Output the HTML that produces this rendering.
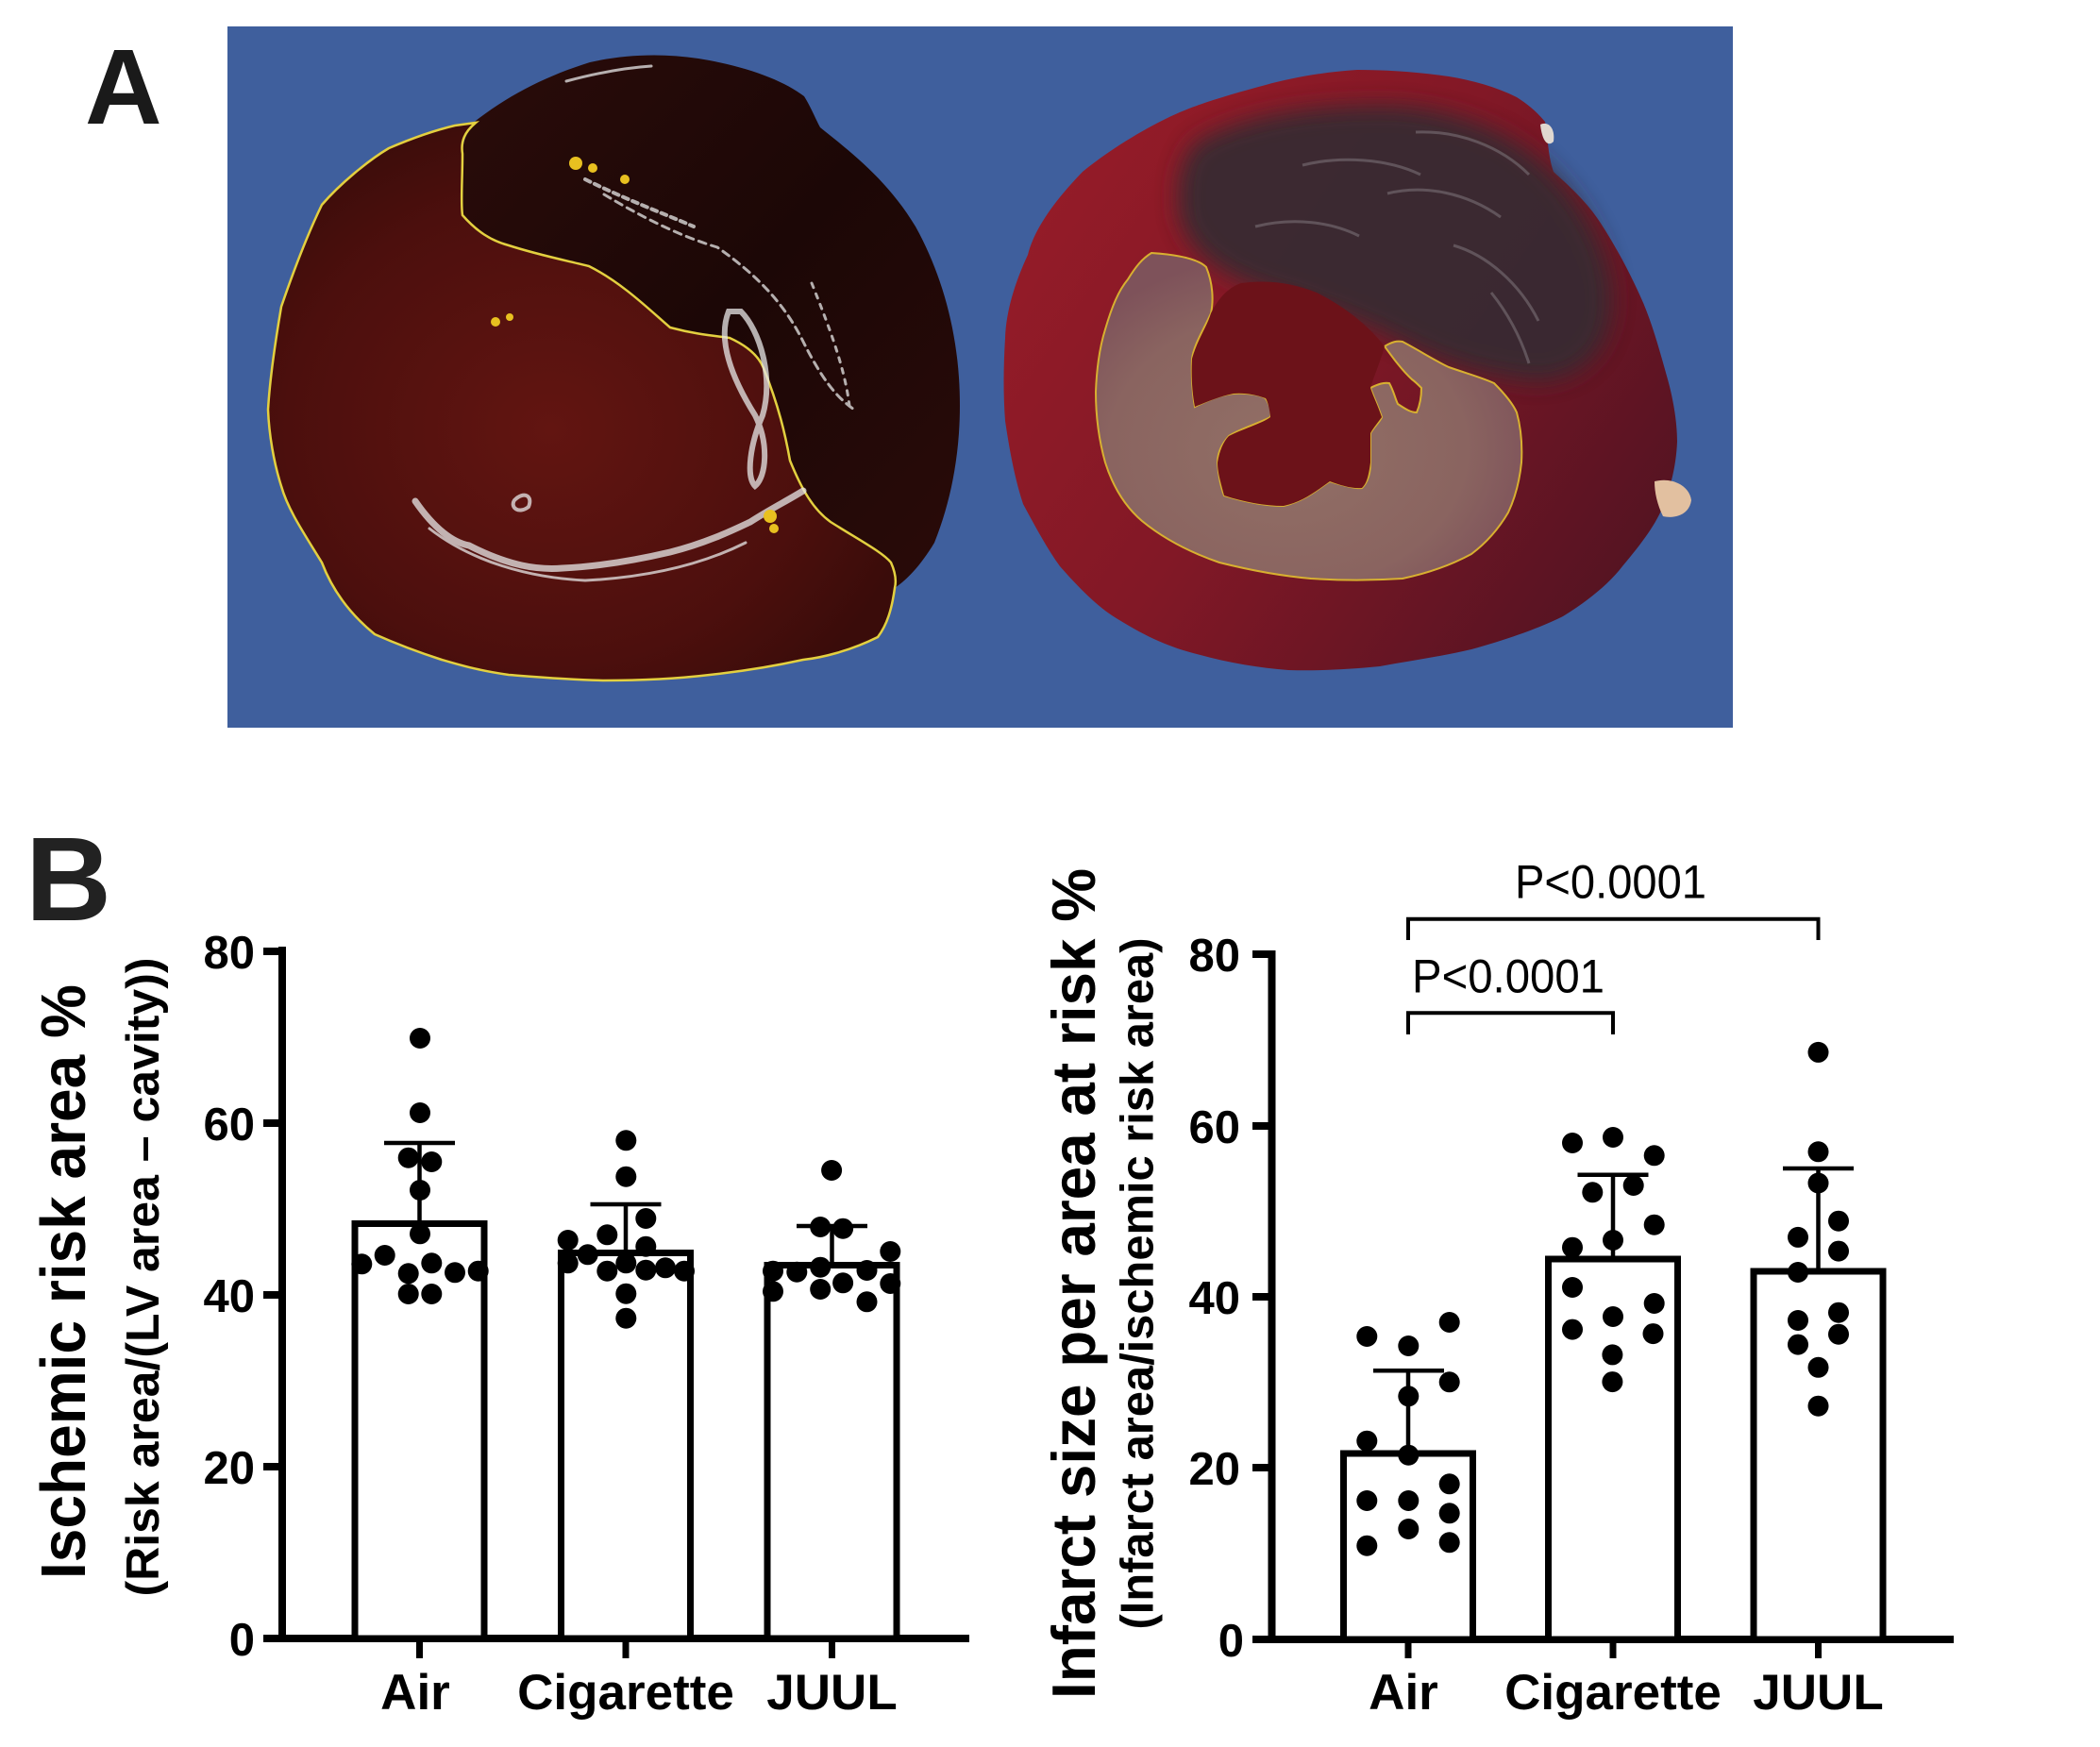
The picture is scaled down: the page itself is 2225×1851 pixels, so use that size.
<!DOCTYPE html>
<html><head><meta charset="utf-8"><style>
html,body{margin:0;padding:0;background:#fff;}
svg{display:block;}
text{font-family:"Liberation Sans",Arial,sans-serif;}
</style></head><body>
<svg width="2225" height="1851" viewBox="0 0 2225 1851" xmlns="http://www.w3.org/2000/svg">
<defs>
<radialGradient id="lh" cx="0.45" cy="0.55" r="0.6">
<stop offset="0" stop-color="#621511"/><stop offset="0.7" stop-color="#4c0f0d"/><stop offset="1" stop-color="#3a0c0a"/>
</radialGradient>
<linearGradient id="ld" x1="0" y1="0" x2="1" y2="1">
<stop offset="0" stop-color="#2a0c0a"/><stop offset="0.5" stop-color="#1c0706"/><stop offset="1" stop-color="#2a0b09"/>
</linearGradient>
<linearGradient id="rh" x1="0" y1="0.2" x2="1" y2="0.8">
<stop offset="0" stop-color="#961c28"/><stop offset="0.45" stop-color="#821826"/><stop offset="1" stop-color="#521322"/>
</linearGradient>
<radialGradient id="rin" cx="0.45" cy="0.6" r="0.6">
<stop offset="0" stop-color="#927066"/><stop offset="0.7" stop-color="#8a6460"/><stop offset="1" stop-color="#7e525a"/>
</radialGradient>
<filter id="bl" x="-20%" y="-20%" width="140%" height="140%"><feGaussianBlur stdDeviation="12"/></filter>
</defs>

<!-- Panel A -->
<text x="90" y="131" font-size="113" font-weight="bold" fill="#1a1a1a">A</text>
<rect x="241" y="28" width="1595" height="743" fill="#3f5f9d"/>

<!-- left heart: dark region -->
<path d="M504,128 C540,100 580,80 625,66 C660,58 700,56 740,62 C790,70 830,85 852,102 C860,115 865,128 869,135 C900,160 940,190 970,240 C995,285 1012,340 1016,400 C1020,460 1012,520 990,575 C975,600 960,615 948,623 C950,612 948,603 944,596 C930,582 905,568 880,553 C860,538 848,515 837,488 C830,455 822,420 809,390 C800,374 790,364 773,358 C755,354 730,352 710,347 C685,325 655,296 624,282 C598,274 565,268 539,260 C518,252 502,242 490,228 C489,205 490,185 490,163 C490,150 495,138 504,128 Z" fill="url(#ld)"/>
<!-- left heart: risk region -->
<path d="M504,130 C492,140 488,150 490,163 C490,190 488,215 490,228 C505,245 520,255 539,260 C570,270 600,276 624,282 C660,300 690,330 710,347 C740,355 760,356 773,358 C795,368 805,380 809,390 C825,430 832,460 837,488 C850,520 862,540 880,553 C910,572 935,585 944,596 C948,605 950,615 948,623 C945,645 940,662 930,675 C900,690 870,697 851,699 C810,708 780,712 752,715 C710,720 670,721 639,721 C600,720 565,717 539,715 C505,710 485,704 468,699 C440,690 415,680 397,672 C370,650 352,625 341,596 C322,565 305,540 298,515 C290,490 285,460 284,434 C286,400 292,360 298,325 C310,290 325,250 341,217 C360,195 390,170 412,157 C440,145 465,137 482,133 Z" fill="url(#lh)" stroke="#e3d040" stroke-width="2.5"/>
<g fill="none" stroke="#e8e8e8" stroke-linecap="round" opacity="0.75">
<path d="M440,531 C460,560 480,575 497,578 C540,600 570,604 596,602 C640,600 680,592 710,585 C750,575 780,560 795,553 C815,540 835,530 851,520" stroke-width="7"/>
<path d="M455,560 C500,595 560,612 620,615 C680,612 740,600 790,575" stroke-width="3"/>
<path d="M772,330 C760,360 775,400 800,440 C815,470 812,505 800,515 C790,505 795,470 808,440 C820,400 805,350 785,330 Z" stroke-width="6"/>
<path d="M640,206 C680,230 720,250 760,262 C800,290 830,320 850,360 C870,400 885,420 905,434" stroke-width="3" stroke-dasharray="8 6"/>
<path d="M620,190 C660,210 700,225 735,240" stroke-width="4" stroke-dasharray="6 5"/>
<path d="M860,300 C880,350 895,390 900,430" stroke-width="3" stroke-dasharray="5 7"/>
<path d="M600,86 C630,78 660,72 690,70" stroke-width="3"/>
<path d="M545,530 C555,520 565,525 560,537 C550,545 540,538 545,530 Z" stroke-width="4"/>
</g>
<g fill="#e8c020">
<circle cx="610" cy="173" r="7"/><circle cx="628" cy="178" r="5"/><circle cx="662" cy="190" r="5"/>
<circle cx="525" cy="341" r="5"/><circle cx="540" cy="336" r="4"/><circle cx="816" cy="547" r="7"/><circle cx="820" cy="560" r="5"/>
</g>

<!-- right heart -->
<path d="M1268,112 C1230,125 1180,155 1147,182 C1115,215 1095,245 1089,270 C1075,300 1066,330 1065,358 C1063,390 1063,420 1065,446 C1070,480 1076,510 1084,534 C1098,560 1110,582 1123,600 C1145,625 1165,645 1186,657 C1215,675 1240,686 1268,693 C1300,702 1335,708 1365,710 C1400,711 1430,709 1462,706 C1495,700 1530,695 1559,688 C1595,678 1630,666 1656,653 C1685,635 1705,618 1719,600 C1740,575 1755,555 1763,534 C1772,510 1776,490 1777,468 C1777,445 1772,420 1767,402 C1758,370 1750,340 1738,314 C1725,285 1710,258 1695,235 C1680,212 1660,195 1646,182 C1640,165 1640,145 1637,129 C1628,118 1618,110 1607,103 C1585,92 1560,85 1535,81 C1500,76 1470,74 1438,74 C1405,76 1370,82 1341,90 C1315,97 1290,104 1268,112 Z" fill="url(#rh)"/>
<path d="M1268,150 C1320,120 1400,110 1480,112 C1560,118 1620,150 1660,200 C1700,250 1720,310 1700,360 C1680,400 1640,410 1600,400 C1560,395 1520,380 1490,365 C1450,345 1400,325 1350,310 C1300,295 1260,270 1250,230 C1245,195 1252,165 1268,150 Z" fill="#382a30" opacity="0.95" filter="url(#bl)"/>
<g fill="none" stroke="#7a7076" stroke-width="3" opacity="0.6">
<path d="M1380,175 C1420,165 1470,168 1505,185"/>
<path d="M1470,205 C1510,195 1555,205 1590,230"/>
<path d="M1540,260 C1575,270 1610,300 1630,340"/>
<path d="M1580,310 C1600,335 1612,360 1620,385"/>
<path d="M1500,140 C1545,138 1590,155 1620,185"/>
<path d="M1330,240 C1370,230 1410,235 1440,250"/>
</g>
<!-- yellow region -->
<path d="M1220,268 C1250,270 1270,275 1278,283 C1285,300 1286,318 1283,332 C1275,350 1265,365 1263,380 C1262,400 1264,420 1266,431 C1280,424 1295,418 1307,417 C1320,416 1335,418 1341,422 C1346,430 1347,437 1346,442 C1330,450 1312,455 1302,462 C1293,472 1290,482 1290,490 C1291,505 1294,517 1297,525 C1320,532 1340,536 1360,536 C1385,530 1400,515 1409,510 C1425,515 1437,518 1443,517 C1450,510 1452,500 1452,490 C1452,478 1452,468 1452,459 C1456,452 1462,447 1464,442 C1460,430 1455,420 1452,411 C1460,407 1466,405 1472,406 C1477,415 1478,422 1481,428 C1490,434 1495,437 1501,437 C1505,428 1506,418 1506,411 C1502,407 1499,404 1496,402 C1485,392 1475,378 1467,367 C1475,362 1480,361 1486,362 C1505,372 1520,382 1535,389 C1555,396 1570,400 1583,406 C1595,418 1603,428 1607,437 C1612,455 1613,472 1612,490 C1610,510 1605,528 1598,543 C1588,560 1575,575 1559,587 C1535,600 1510,608 1486,613 C1455,615 1420,615 1389,613 C1355,610 1320,603 1292,596 C1260,585 1232,570 1210,552 C1190,535 1178,512 1171,490 C1164,465 1161,440 1161,415 C1162,390 1165,368 1171,349 C1178,325 1185,308 1195,296 C1203,283 1210,274 1220,268 Z" fill="url(#rin)" stroke="#d8b030" stroke-width="2"/>
<!-- infarct -->
<path d="M1283,332 C1290,318 1300,305 1315,300 C1345,296 1370,300 1395,310 C1425,325 1450,345 1467,367 C1462,385 1455,400 1452,411 C1455,420 1460,430 1464,442 C1458,450 1454,455 1452,459 C1452,470 1452,480 1452,490 C1450,505 1448,512 1443,517 C1432,518 1420,514 1409,510 C1395,520 1380,532 1360,536 C1340,536 1318,532 1297,525 C1293,510 1290,500 1290,490 C1292,478 1296,468 1302,462 C1315,455 1335,450 1346,442 C1345,432 1343,425 1341,422 C1330,418 1318,416 1307,417 C1292,420 1278,426 1266,431 C1263,415 1262,398 1263,380 C1268,362 1278,348 1283,332 Z" fill="#6c1219"/>
<path d="M1753,510 C1772,505 1790,515 1792,530 C1790,545 1775,550 1762,547 C1756,535 1753,522 1753,510 Z" fill="#e2c0a0"/>
<path d="M1632,132 C1640,128 1648,135 1646,150 C1640,156 1634,150 1632,132 Z" fill="#e0d8d0"/>

<!-- Panel B label -->
<text x="27" y="975" font-size="126" font-weight="bold" fill="#222">B</text>

<!-- LEFT CHART -->
<text transform="translate(90,1358) rotate(-90)" text-anchor="middle" font-size="67" font-weight="bold" textLength="630" lengthAdjust="spacingAndGlyphs">Ischemic risk area %</text>
<text transform="translate(168,1353) rotate(-90)" text-anchor="middle" font-size="49" font-weight="bold" textLength="677" lengthAdjust="spacingAndGlyphs">(Risk area/(LV area – cavity))</text>

<g font-size="49" font-weight="bold" text-anchor="end">
<text x="270" y="1026">80</text>
<text x="270" y="1208">60</text>
<text x="270" y="1390">40</text>
<text x="270" y="1572">20</text>
<text x="270" y="1754">0</text>
</g>
<g fill="#000">
<rect x="295" y="1003" width="8" height="737"/>
<rect x="279" y="1004" width="20" height="8"/>
<rect x="279" y="1186" width="20" height="8"/>
<rect x="279" y="1368" width="20" height="8"/>
<rect x="279" y="1550" width="20" height="8"/>
<rect x="279" y="1732" width="748" height="8"/>
<rect x="441" y="1738" width="7" height="19"/>
<rect x="659.5" y="1738" width="7" height="19"/>
<rect x="878" y="1738" width="7" height="19"/>
</g>
<g fill="#fff" stroke="#000" stroke-width="7">
<rect x="376" y="1296.5" width="137" height="439.5"/>
<rect x="594.5" y="1327.5" width="137" height="408.5"/>
<rect x="813" y="1340.5" width="137" height="395.5"/>
</g>
<g stroke="#000" stroke-width="4.5">
<line x1="444.5" y1="1211" x2="444.5" y2="1293"/><line x1="407" y1="1211" x2="482" y2="1211"/>
<line x1="663" y1="1276" x2="663" y2="1324"/><line x1="625.5" y1="1276" x2="700.5" y2="1276"/>
<line x1="881.5" y1="1299" x2="881.5" y2="1337"/><line x1="844" y1="1299" x2="919" y2="1299"/>
</g>
<g fill="#000">
<circle cx="445" cy="1100" r="11"/><circle cx="445" cy="1179" r="11"/><circle cx="432.7" cy="1226.7" r="11"/><circle cx="457.3" cy="1231" r="11"/><circle cx="445" cy="1261" r="11"/><circle cx="445" cy="1307.3" r="11"/><circle cx="407.7" cy="1330" r="11"/><circle cx="383.3" cy="1339.3" r="11"/><circle cx="457.3" cy="1338.3" r="11"/><circle cx="432.7" cy="1349.3" r="11"/><circle cx="482" cy="1348.3" r="11"/><circle cx="506.7" cy="1346.7" r="11"/><circle cx="432.7" cy="1371" r="11"/><circle cx="457.3" cy="1371" r="11"/>
<circle cx="663.3" cy="1208.3" r="11"/><circle cx="663.3" cy="1246.7" r="11"/><circle cx="684.3" cy="1291" r="11"/><circle cx="643.3" cy="1308.3" r="11"/><circle cx="601.7" cy="1314" r="11"/><circle cx="684.3" cy="1320.7" r="11"/><circle cx="622.7" cy="1329.3" r="11"/><circle cx="601.7" cy="1338.3" r="11"/><circle cx="663.3" cy="1338.3" r="11"/><circle cx="643.3" cy="1346.7" r="11"/><circle cx="684.3" cy="1345.7" r="11"/><circle cx="705" cy="1343.3" r="11"/><circle cx="725" cy="1346.7" r="11"/><circle cx="663.3" cy="1370.7" r="11"/><circle cx="663.3" cy="1396.7" r="11"/>
<circle cx="881.1" cy="1240" r="11"/><circle cx="869.2" cy="1300" r="11"/><circle cx="893.1" cy="1301.7" r="11"/><circle cx="943.3" cy="1326" r="11"/><circle cx="819" cy="1346.7" r="11"/><circle cx="844.3" cy="1347.7" r="11"/><circle cx="869.2" cy="1342.7" r="11"/><circle cx="918.5" cy="1346" r="11"/><circle cx="819" cy="1368.3" r="11"/><circle cx="869.2" cy="1366" r="11"/><circle cx="893.1" cy="1359.3" r="11"/><circle cx="943.3" cy="1360" r="11"/><circle cx="918.5" cy="1379.3" r="11"/>
</g>
<g font-size="53" font-weight="bold" text-anchor="middle">
<text x="440" y="1811">Air</text>
<text x="663" y="1811">Cigarette</text>
<text x="881.5" y="1811">JUUL</text>
</g>

<!-- RIGHT CHART -->
<text transform="translate(1160,1360) rotate(-90)" text-anchor="middle" font-size="65" font-weight="bold" textLength="880" lengthAdjust="spacingAndGlyphs">Infarct size per area at risk %</text>
<text transform="translate(1221.5,1360) rotate(-90)" text-anchor="middle" font-size="49" font-weight="bold" textLength="733" lengthAdjust="spacingAndGlyphs">(Infarct area/ischemic risk area)</text>

<g font-size="49" font-weight="bold" text-anchor="end">
<text x="1314" y="1029">80</text>
<text x="1314" y="1211">60</text>
<text x="1314" y="1392">40</text>
<text x="1314" y="1573">20</text>
<text x="1318" y="1755">0</text>
</g>
<g fill="#000">
<rect x="1343.5" y="1007" width="8" height="734"/>
<rect x="1327" y="1007" width="20" height="8"/>
<rect x="1327" y="1189" width="20" height="8"/>
<rect x="1327" y="1370" width="20" height="8"/>
<rect x="1327" y="1551" width="20" height="8"/>
<rect x="1327" y="1733" width="743" height="8"/>
<rect x="1488.5" y="1739" width="7" height="18"/>
<rect x="1705.5" y="1739" width="7" height="18"/>
<rect x="1923" y="1739" width="7" height="18"/>
</g>
<g fill="#fff" stroke="#000" stroke-width="7">
<rect x="1423.5" y="1540" width="137" height="197"/>
<rect x="1640.5" y="1334" width="137" height="403"/>
<rect x="1858" y="1347" width="137" height="390"/>
</g>
<g stroke="#000" stroke-width="4.5">
<line x1="1492" y1="1452.3" x2="1492" y2="1537"/><line x1="1455" y1="1452.3" x2="1530" y2="1452.3"/>
<line x1="1709" y1="1244.7" x2="1709" y2="1331"/><line x1="1671.5" y1="1244.7" x2="1746.5" y2="1244.7"/>
<line x1="1926.5" y1="1238" x2="1926.5" y2="1344"/><line x1="1889" y1="1238" x2="1964" y2="1238"/>
</g>
<g fill="#000">
<circle cx="1448.3" cy="1416" r="11"/><circle cx="1492.3" cy="1426" r="11"/><circle cx="1535.7" cy="1401" r="11"/><circle cx="1535.7" cy="1464.3" r="11"/><circle cx="1492.3" cy="1479.3" r="11"/><circle cx="1448.3" cy="1526.7" r="11"/><circle cx="1492.3" cy="1541.7" r="11"/><circle cx="1535.7" cy="1572.3" r="11"/><circle cx="1448.3" cy="1590" r="11"/><circle cx="1492.3" cy="1590" r="11"/><circle cx="1535.7" cy="1603.3" r="11"/><circle cx="1492.3" cy="1620" r="11"/><circle cx="1448.3" cy="1637.7" r="11"/><circle cx="1535.7" cy="1634.3" r="11"/>
<circle cx="1666" cy="1211" r="11"/><circle cx="1709" cy="1205" r="11"/><circle cx="1752.7" cy="1224.3" r="11"/><circle cx="1687.3" cy="1263.3" r="11"/><circle cx="1730.7" cy="1256" r="11"/><circle cx="1752.7" cy="1297.7" r="11"/><circle cx="1709" cy="1314" r="11"/><circle cx="1666" cy="1321.7" r="11"/><circle cx="1666" cy="1364" r="11"/><circle cx="1752.7" cy="1381" r="11"/><circle cx="1709" cy="1395" r="11"/><circle cx="1666" cy="1408.6" r="11"/><circle cx="1751.5" cy="1413.1" r="11"/><circle cx="1708.4" cy="1435.4" r="11"/><circle cx="1708.4" cy="1464.1" r="11"/>
<circle cx="1926.5" cy="1114.9" r="11"/><circle cx="1926.5" cy="1220.3" r="11"/><circle cx="1926.5" cy="1253.5" r="11"/><circle cx="1948" cy="1293.7" r="11"/><circle cx="1905" cy="1310.9" r="11"/><circle cx="1948" cy="1325.6" r="11"/><circle cx="1905" cy="1348" r="11"/><circle cx="1948" cy="1390.7" r="11"/><circle cx="1905" cy="1399" r="11"/><circle cx="1948" cy="1413.7" r="11"/><circle cx="1905" cy="1424.6" r="11"/><circle cx="1926.5" cy="1448.8" r="11"/><circle cx="1926.5" cy="1489.7" r="11"/>
</g>
<g font-size="53" font-weight="bold" text-anchor="middle">
<text x="1487" y="1811">Air</text>
<text x="1709" y="1811">Cigarette</text>
<text x="1926.5" y="1811">JUUL</text>
</g>
<!-- significance brackets -->
<g fill="none" stroke="#000" stroke-width="4">
<path d="M1492,996 V973.7 H1926.5 V996"/>
<path d="M1492,1096 V1073.3 H1709 V1096"/>
</g>
<g font-size="50" fill="#000">
<text x="1605" y="951.5" textLength="203" lengthAdjust="spacingAndGlyphs">P&lt;0.0001</text>
<text x="1496" y="1051.5" textLength="204" lengthAdjust="spacingAndGlyphs">P&lt;0.0001</text>
</g>
</svg>
</body></html>
